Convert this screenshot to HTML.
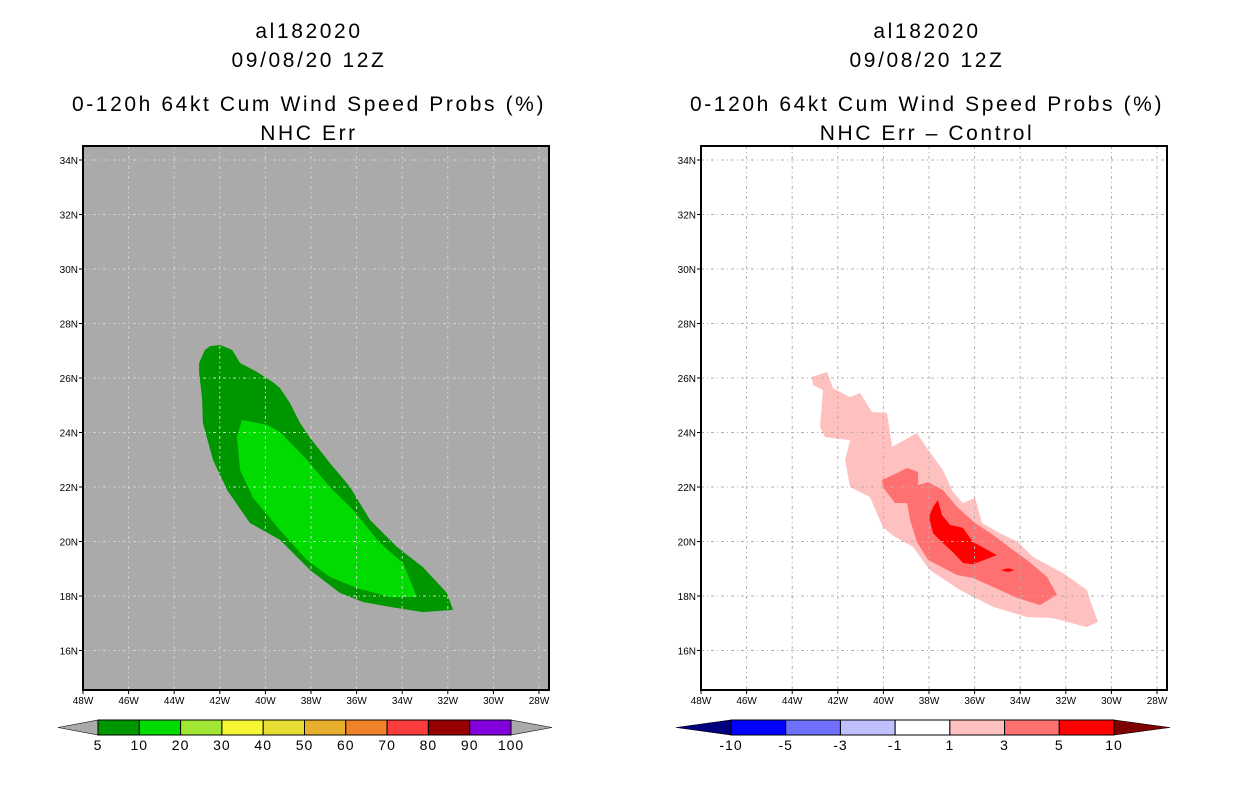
<!DOCTYPE html>
<html><head><meta charset="utf-8"><style>
body{margin:0;background:#fff;width:1236px;height:800px;overflow:hidden;font-family:"Liberation Sans",sans-serif}
svg text{font-family:"Liberation Sans","DejaVu Sans",sans-serif}
</style></head><body>
<svg id="s" width="1236" height="800" xmlns="http://www.w3.org/2000/svg"></svg>
<script>
const lonTicks=[48,46,44,42,40,38,36,34,32,30,28];
const latTicks=[34,32,30,28,26,24,22,20,18,16];
const leftOuter=[[-42.91,26.55],[-42.65,27.03],[-42.43,27.17],[-41.99,27.21],[-41.46,27.03],[-41.11,26.55],[-40.37,26.22],[-39.67,25.85],[-39.36,25.63],[-38.92,25.08],[-38.48,24.35],[-38.04,23.80],[-37.17,22.88],[-36.29,22.00],[-35.41,20.79],[-34.23,19.80],[-33.09,19.06],[-32.04,18.11],[-31.77,17.49],[-33.09,17.41],[-34.54,17.60],[-35.72,17.78],[-36.73,18.11],[-38.04,18.95],[-39.36,20.06],[-40.68,20.68],[-41.68,21.89],[-42.30,22.99],[-42.74,24.35],[-42.78,25.30],[-42.91,26.18]];
const leftInner=[[-41.03,24.46],[-39.93,24.28],[-39.36,24.02],[-38.18,23.00],[-37.17,22.00],[-36.16,21.16],[-34.97,19.94],[-33.96,19.21],[-33.35,17.96],[-34.54,17.96],[-35.98,18.29],[-37.17,18.70],[-38.18,19.32],[-39.36,20.42],[-40.54,21.60],[-41.11,22.62],[-41.25,23.83]];
const diff1=[[-43.13,26.04],[-42.47,26.22],[-42.21,25.63],[-41.46,25.30],[-41.02,25.45],[-40.50,24.75],[-39.84,24.72],[-39.62,23.47],[-38.53,23.98],[-38.09,23.43],[-37.39,22.62],[-36.95,21.82],[-36.51,21.41],[-35.98,21.60],[-35.68,20.68],[-34.89,20.31],[-34.10,19.98],[-33.44,19.43],[-32.12,18.84],[-31.07,18.22],[-30.94,17.85],[-30.59,17.05],[-31.07,16.86],[-32.56,17.19],[-33.70,17.23],[-35.19,17.60],[-36.64,18.22],[-37.96,18.95],[-38.70,19.80],[-39.62,20.24],[-40.02,20.53],[-40.59,21.63],[-41.46,22.00],[-41.68,22.99],[-41.46,23.72],[-42.56,23.83],[-42.78,24.20],[-42.65,25.56],[-43.09,25.74]];
const diff3=[[-40.06,22.26],[-39.40,22.51],[-38.96,22.70],[-38.48,22.55],[-38.48,22.07],[-38.04,22.18],[-37.39,21.89],[-36.77,21.27],[-35.98,20.68],[-35.19,20.24],[-34.32,19.69],[-33.70,19.32],[-32.82,18.70],[-32.39,18.04],[-33.13,17.67],[-34.14,17.93],[-35.19,18.33],[-36.07,18.66],[-36.77,18.77],[-38.04,19.32],[-38.53,19.98],[-38.83,20.79],[-38.96,21.41],[-39.49,21.41],[-40.02,22.00]];
const diff5=[[-37.61,21.52],[-37.43,20.97],[-37.08,20.61],[-36.51,20.50],[-36.07,19.98],[-35.02,19.50],[-36.07,19.17],[-36.51,19.21],[-36.95,19.61],[-37.39,19.94],[-37.82,20.31],[-38.00,20.90],[-37.82,21.27]];
const diff5b=[[-34.85,18.95],[-34.54,19.02],[-34.25,18.95],[-34.54,18.88]];
const leftLevels=["5","10","20","30","40","50","60","70","80","90","100"];
const leftColors=["#009600","#00dc00","#a0e632","#f5f532","#e6dc32","#e6af2d","#f08228","#fa3c3c","#960000","#8200dc"];
const rightLevels=["-10","-5","-3","-1","1","3","5","10"];
const rightColors=["#0000ff","#7070ff","#c0c0ff","#ffffff","#ffc0c0","#ff7070","#ff0000"];

const S=document.getElementById('s');const NS='http://www.w3.org/2000/svg';
function mk(t,a,p){const e=document.createElementNS(NS,t);for(const k in a)e.setAttribute(k,a[k]);(p||S).appendChild(e);return e;}
function txt(x,y,s,size,anchor,p,ls){const e=mk('text',{x:x,y:y,'font-size':size,'text-anchor':anchor||'middle',fill:'#000','letter-spacing':ls||0},p);e.textContent=s;return e;}
const PX=22.8,PY=27.25,T=146,B=690;
function panel(ox,name,bg,gridCol,polys,titles){
  const g=mk('g',{});
  
  
  const L=ox,R=ox+466;
  const X=lon=>L+(48+lon)*PX, Y=lat=>160+(34-lat)*PY;
  const bgR=mk('rect',{x:L,y:T,width:466,height:B-T,fill:bg},g);
  
  polys.forEach(([pts,col,nm])=>{
    const p=mk('polygon',{points:pts.map(q=>X(q[0]).toFixed(1)+','+Y(q[1]).toFixed(1)).join(' '),fill:col},g);
    
    
  });
  lonTicks.forEach(t=>{const x=X(-t);
    if(x>L+2&&x<R-2)mk('line',{x1:x,y1:T,x2:x,y2:B,stroke:gridCol,'stroke-width':1,'stroke-dasharray':'3,3,1,3'},g);
    mk('line',{x1:x,y1:B,x2:x,y2:B+4,stroke:'#000'},g);
    const lb=txt(x,B+14,t+'W',10,'middle',g);});
  latTicks.forEach(t=>{const y=Y(t);
    mk('line',{x1:L,y1:y,x2:R,y2:y,stroke:gridCol,'stroke-width':1,'stroke-dasharray':'3,3,1,3'},g);
    mk('line',{x1:L-4,y1:y,x2:L,y2:y,stroke:'#000'},g);
    const lb=txt(L-5,y+4,t+'N',10,'end',g);});
  mk('rect',{x:L,y:T,width:466,height:B-T,fill:'none',stroke:'#000','stroke-width':2},g);
  const cx=L+226;
  titles.forEach((s,i)=>{const e=txt(cx,[38,67,111,140][i],s,21,'middle',g,2.6);});
}
panel(83,'left-panel','#aaaaaa','#d2d2d2',[[leftOuter,'#009600','contour-5pct'],[leftInner,'#00dc00','contour-10pct']],['al182020','09/08/20 12Z','0-120h 64kt Cum Wind Speed Probs (%)','NHC Err']);
panel(701,'right-panel','#ffffff','#b0b0b0',[[diff1,'#ffc0c0','contour-diff-1'],[diff3,'#ff7070','contour-diff-3'],[diff5,'#ff0000','contour-diff-5'],[diff5b,'#ff0000','contour-diff-5b']],['al182020','09/08/20 12Z','0-120h 64kt Cum Wind Speed Probs (%)','NHC Err – Control']);
function cbar(x0,x1,t0,t1,cols,levels,lc,rc,name){
  const g=mk('g',{});
  
  
  const y0=720,y1=735,w=(x1-x0)/cols.length;
  mk('polygon',{points:`${t0},727.5 ${x0},${y0} ${x0},${y1}`,fill:lc,stroke:'#000','stroke-width':0.6},g);
  mk('polygon',{points:`${t1},727.5 ${x1},${y0} ${x1},${y1}`,fill:rc,stroke:'#000','stroke-width':0.6},g);
  cols.forEach((c,i)=>{const r=mk('rect',{x:x0+i*w,y:y0,width:w,height:y1-y0,fill:c,stroke:'#000','stroke-width':1},g);
    });
  levels.forEach((s,i)=>{const e=txt(x0+i*w,750,s,14,'middle',g,1);});
}
cbar(98,511,58,552,leftColors,leftLevels,'#aaaaaa','#aaaaaa','left-colorbar');
cbar(731,1114,676,1170,rightColors,rightLevels,'#00007f','#7f0000','right-colorbar');
</script>
</body></html>
